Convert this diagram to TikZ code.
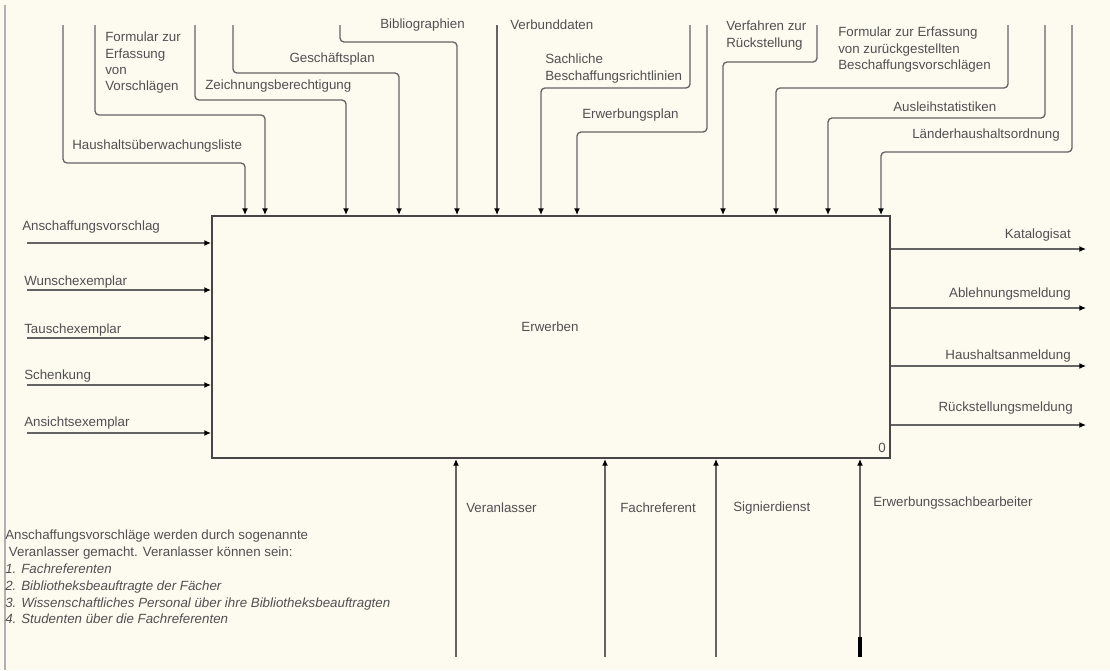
\documentclass[tikz,border=0pt]{standalone}
\usepackage{fontspec}
\setmainfont{Liberation Sans}
\usetikzlibrary{arrows.meta,positioning}
\definecolor{paper}{RGB}{253,250,240}
\definecolor{wire}{RGB}{100,100,100}
\definecolor{frame}{RGB}{70,70,70}
\definecolor{ink}{RGB}{80,80,80}
\tikzset{
  arr/.style={draw=wire, line width=1pt, rounded corners=3pt, -{Latex[length=5pt,width=4.5pt,black]}},
  lbl/.style={text=ink, font=\fontsize{10}{12.2}\selectfont, inner sep=0pt, align=left},
  actbox/.style={draw=frame, line width=1.5pt, fill=paper, minimum width=508.5pt, minimum height=181.5pt, inner sep=0pt},
}
\begin{document}
\begin{tikzpicture}[x=0.75pt,y=-0.75pt]
  \fill[paper] (0,0) rectangle (1110,670);
  \draw[wire!50, line width=1.2pt] (5,5) -- (5,670);
  % Drawing the activity box
  \node[actbox] (erwerben) at (551,337) {};
  \node[lbl] (erwerbenlbl) at (550,327) {Erwerben};
  \node[lbl] (boxnr) at (882,448) {0};
  % Inputs from the left
  \coordinate (in1) at (27,243);
  \draw[arr] (in1) -- (in1 -| erwerben.west);
  \node[lbl, anchor=west] (in1lbl) at (22,227) {Anschaffungsvorschlag};
  \coordinate (in2) at (27,290);
  \draw[arr] (in2) -- (in2 -| erwerben.west);
  \node[lbl, anchor=west] (in2lbl) at (24,282) {Wunschexemplar};
  \coordinate (in3) at (27,338);
  \draw[arr] (in3) -- (in3 -| erwerben.west);
  \node[lbl, anchor=west] (in3lbl) at (24,330) {Tauschexemplar};
  \coordinate (in4) at (27,385);
  \draw[arr] (in4) -- (in4 -| erwerben.west);
  \node[lbl, anchor=west] (in4lbl) at (24,376) {Schenkung};
  \coordinate (in5) at (27,433);
  \draw[arr] (in5) -- (in5 -| erwerben.west);
  \node[lbl, anchor=west] (in5lbl) at (24,423) {Ansichtsexemplar};
  % Outputs to the right
  \coordinate (out1) at (1086,249);
  \draw[arr] (out1 -| erwerben.east) -- (out1);
  \node[lbl, anchor=east] (out1lbl) at (1071,235) {Katalogisat};
  \coordinate (out2) at (1086,308);
  \draw[arr] (out2 -| erwerben.east) -- (out2);
  \node[lbl, anchor=east] (out2lbl) at (1071,294) {Ablehnungsmeldung};
  \coordinate (out3) at (1086,366);
  \draw[arr] (out3 -| erwerben.east) -- (out3);
  \node[lbl, anchor=east] (out3lbl) at (1071,356) {Haushaltsanmeldung};
  \coordinate (out4) at (1086,425);
  \draw[arr] (out4 -| erwerben.east) -- (out4);
  \node[lbl, anchor=east] (out4lbl) at (1073,408) {Rückstellungsmeldung};
  % Controls from the top
  \coordinate (ctl1) at (63,25);   \coordinate (ctl1b) at (245,163);
  \draw[arr] (ctl1) |- (ctl1b) -- (ctl1b |- erwerben.north);
  \node[lbl, anchor=west] (ctl1lbl) at (72,146) {Haushaltsüberwachungsliste};
  \coordinate (ctl2) at (95,25);   \coordinate (ctl2b) at (265,115);
  \draw[arr] (ctl2) |- (ctl2b) -- (ctl2b |- erwerben.north);
  \node[lbl, anchor=north west] (ctl2lbl) at (105,32) {Formular zur\\Erfassung\\von\\Vorschlägen};
  \coordinate (ctl3) at (195,25);  \coordinate (ctl3b) at (346,100);
  \draw[arr] (ctl3) |- (ctl3b) -- (ctl3b |- erwerben.north);
  \node[lbl, anchor=west] (ctl3lbl) at (205,86) {Zeichnungsberechtigung};
  \coordinate (ctl4) at (233,25);  \coordinate (ctl4b) at (399,73);
  \draw[arr] (ctl4) |- (ctl4b) -- (ctl4b |- erwerben.north);
  \node[lbl, anchor=east] (ctl4lbl) at (375,59) {Geschäftsplan};
  \coordinate (ctl5) at (340,25);  \coordinate (ctl5b) at (457,42);
  \draw[arr] (ctl5) |- (ctl5b) -- (ctl5b |- erwerben.north);
  \node[lbl, anchor=west] (ctl5lbl) at (380,25) {Bibliographien};
  \coordinate (ctl6) at (497,25);
  \draw[arr] (ctl6) -- (ctl6 |- erwerben.north);
  \node[lbl, anchor=west] (ctl6lbl) at (510,25) {Verbunddaten};
  \coordinate (ctl7) at (690,25);  \coordinate (ctl7b) at (541,88);
  \draw[arr] (ctl7) |- (ctl7b) -- (ctl7b |- erwerben.north);
  \node[lbl, anchor=north west] (ctl7lbl) at (545,54) {Sachliche\\Beschaffungsrichtlinien};
  \coordinate (ctl8) at (707,25);  \coordinate (ctl8b) at (577,132);
  \draw[arr] (ctl8) |- (ctl8b) -- (ctl8b |- erwerben.north);
  \node[lbl, anchor=west] (ctl8lbl) at (582,115) {Erwerbungsplan};
  \coordinate (ctl9) at (817,25);  \coordinate (ctl9b) at (723,62);
  \draw[arr] (ctl9) |- (ctl9b) -- (ctl9b |- erwerben.north);
  \node[lbl, anchor=north west] (ctl9lbl) at (726,21) {Verfahren zur\\Rückstellung};
  \coordinate (ctl10) at (1008,25); \coordinate (ctl10b) at (776,88);
  \draw[arr] (ctl10) |- (ctl10b) -- (ctl10b |- erwerben.north);
  \node[lbl, anchor=north west] (ctl10lbl) at (838,27) {Formular zur Erfassung\\von zurückgestellten\\Beschaffungsvorschlägen};
  \coordinate (ctl11) at (1045,25); \coordinate (ctl11b) at (828,118);
  \draw[arr] (ctl11) |- (ctl11b) -- (ctl11b |- erwerben.north);
  \node[lbl, anchor=west] (ctl11lbl) at (893,107) {Ausleihstatistiken};
  \coordinate (ctl12) at (1072,25); \coordinate (ctl12b) at (881,152);
  \draw[arr] (ctl12) |- (ctl12b) -- (ctl12b |- erwerben.north);
  \node[lbl, anchor=west] (ctl12lbl) at (912,135) {Länderhaushaltsordnung};
  % Mechanisms from below
  \coordinate (mec1) at (456,657);
  \draw[arr] (mec1) -- (mec1 |- erwerben.south);
  \node[lbl, anchor=west] (mec1lbl) at (466,508) {Veranlasser};
  \coordinate (mec2) at (605,657);
  \draw[arr] (mec2) -- (mec2 |- erwerben.south);
  \node[lbl, anchor=west] (mec2lbl) at (620,508) {Fachreferent};
  \coordinate (mec3) at (716,657);
  \draw[arr] (mec3) -- (mec3 |- erwerben.south);
  \node[lbl, anchor=west] (mec3lbl) at (733,508) {Signierdienst};
  \coordinate (mec4) at (860,657);
  \draw[arr] (mec4) -- (mec4 |- erwerben.south);
  \draw[black, line width=2.5pt] (mec4) -- ++(0,-20);
  \node[lbl, anchor=west] (mec4lbl) at (873,503) {Erwerbungssachbearbeiter};
  % Note
  \node[lbl, anchor=north west, font=\fontsize{10}{12.6}\selectfont] (note) at (5,530)
    {Anschaffungsvorschläge werden durch sogenannte\\
     \ Veranlasser gemacht. Veranlasser können sein:\\
     \textit{1. Fachreferenten}\\
     \textit{2. Bibliotheksbeauftragte der Fächer}\\
     \textit{3. Wissenschaftliches Personal über ihre Bibliotheksbeauftragten}\\
     \textit{4. Studenten über die Fachreferenten}};
\end{tikzpicture}
\end{document}
